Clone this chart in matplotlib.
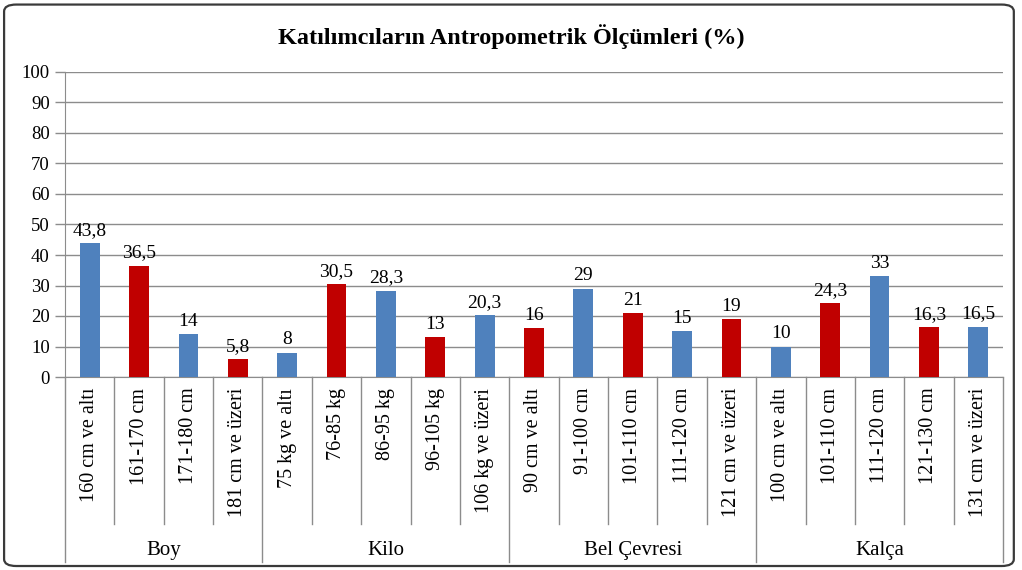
import matplotlib.pyplot as plt
from matplotlib.patches import FancyBboxPatch
import matplotlib.transforms as mtransforms

plt.rcParams['font.family'] = ['Liberation Serif', 'DejaVu Serif']

# Chart data
groups = ['Boy', 'Kilo', 'Bel Çevresi', 'Kalça']
group_sizes = [4, 5, 5, 5]
categories = [
    '160 cm ve altı', '161-170 cm', '171-180 cm', '181 cm ve üzeri',
    '75 kg ve altı', '76-85 kg', '86-95 kg', '96-105 kg', '106 kg ve üzeri',
    '90 cm ve altı', '91-100 cm', '101-110 cm', '111-120 cm', '121 cm ve üzeri',
    '100 cm ve altı', '101-110 cm', '111-120 cm', '121-130 cm', '131 cm ve üzeri',
]
values = [43.8, 36.5, 14, 5.8,
          8, 30.5, 28.3, 13, 20.3,
          16, 29, 21, 15, 19,
          10, 24.3, 33, 16.3, 16.5]
yticks = list(range(0, 101, 10))

BLUE = '#4F81BD'
RED = '#C00000'
GRID = '#8C8C8C'


def fmt(v):
    s = f'{v:g}'
    return s.replace('.', ',')


fig = plt.figure(figsize=(10.22, 5.70), dpi=100)

# outer frame
frame = FancyBboxPatch((0.004, 0.007), 0.988, 0.985, boxstyle='round,pad=0,rounding_size=0.012',
                       transform=fig.transFigure, fill=False, edgecolor='#3a3a3a', lw=1.6)
fig.patches.append(frame)

ax = fig.add_axes([65 / 1022, 193 / 570, 938 / 1022, 305 / 570])

n = len(categories)
x = list(range(n))
colors = [BLUE if i % 2 == 0 else RED for i in range(n)]
ax.bar(x, values, width=0.4, color=colors, zorder=3)

for xi, v in zip(x, values):
    ax.annotate(fmt(v), (xi, v), xytext=(0, 3), textcoords='offset points',
                ha='center', va='bottom', fontsize=14)

ax.set_xlim(-0.5, n - 0.5)
ax.set_ylim(0, 100)
ax.set_yticks(yticks)
ax.set_yticklabels([str(t) for t in yticks], fontsize=13.5)
ax.yaxis.grid(True, color=GRID, lw=1, zorder=0)
ax.tick_params(axis='y', length=7, width=1, color=GRID, pad=4)
ax.set_xticks([])
for side in ['top', 'right']:
    ax.spines[side].set_visible(False)
ax.spines['left'].set_color(GRID)
ax.spines['bottom'].set_color(GRID)

trans = mtransforms.blended_transform_factory(ax.transData, ax.transAxes)

# category labels
for xi, lab in zip(x, categories):
    ax.text(xi, -0.035, lab, transform=trans, rotation=90, ha='center', va='top',
            fontsize=14.5, clip_on=False)

# separators and group labels
start = 0
for g, size in zip(groups, group_sizes):
    end = start + size
    for b in range(start + 1, end):
        ax.plot([b - 0.5, b - 0.5], [0, -0.482], transform=trans, color=GRID, lw=1, clip_on=False)
    ax.plot([end - 0.5, end - 0.5], [0, -0.607], transform=trans, color=GRID, lw=1, clip_on=False)
    ax.text((start + end - 1) / 2, -0.57, g, transform=trans, ha='center', va='center',
            fontsize=15, clip_on=False)
    start = end
ax.plot([-0.5, -0.5], [0, -0.607], transform=trans, color=GRID, lw=1, clip_on=False)

fig.text(0.5, 0.935, 'Katılımcıların Antropometrik Ölçümleri (%)', ha='center', va='center',
         fontsize=17.5, fontweight='bold')

fig.savefig('out.png', dpi=100)
